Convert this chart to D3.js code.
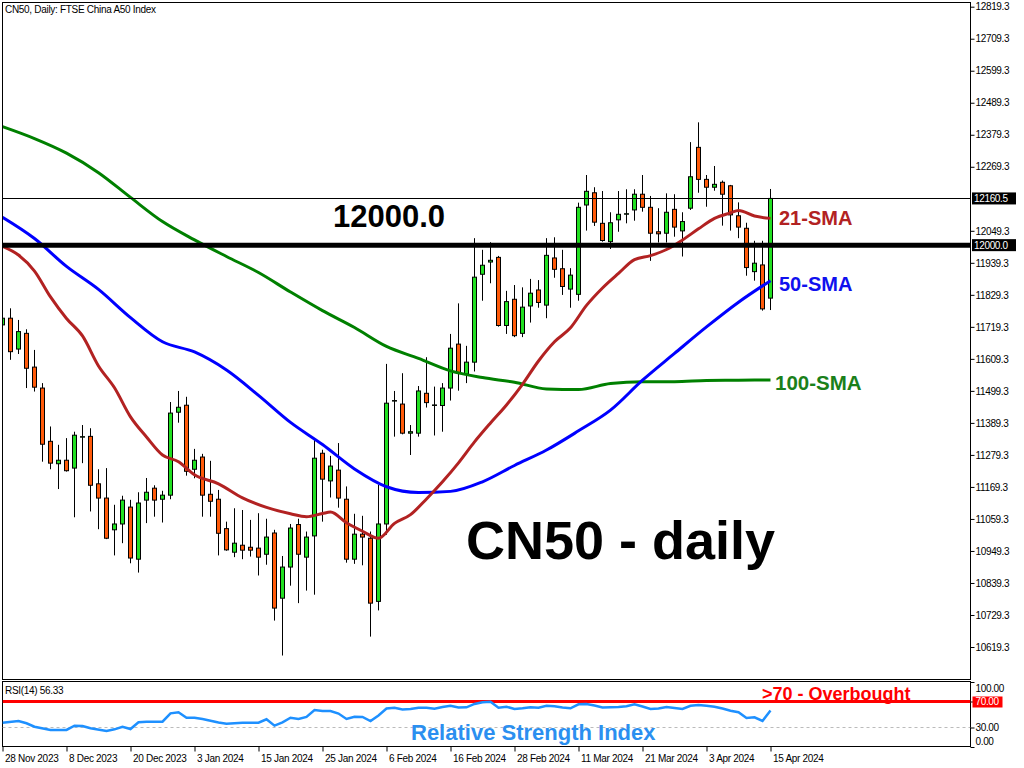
<!DOCTYPE html>
<html><head><meta charset="utf-8">
<script src="https://cdn.jsdelivr.net/npm/d3@7"></script>
<style>body{margin:0;background:#fff}</style>
</head><body><svg id="c" width="1024" height="768"></svg>
<script>
// ---- data ----
const opens  = [11726,11749,11643,11697,11581,11509,11326,11249,11261,11234,11342,11343,11180,11131,11022,11042,11100,10921,11124,11165,11127,11141,11426,11450,11230,11272,11144,11127,11026,10945,10969,10962,10959,10938,11011,10787,10894,11040,10928,11001,11285,11190,11227,11127,10921,11007,10993,10776,11042,11466,11454,11354,11354,11491,11451,11449,11509,11660,11557,11598,11900,11942,11958,11724,11814,11697,11791,11846,11794,11956,11919,11849,11831,12138,12180,12075,12012,12087,12108,12121,12175,12130,12046,12041,12123,12049,12127,12336,12226,12199,12216,12204,12101,12058,11909,11932,11818];
const highs  = [11757,11783,11743,11711,11640,11526,11377,11314,11337,11359,11382,11371,11230,11234,11108,11139,11125,11151,11200,11175,11156,11461,11499,11479,11300,11283,11259,11159,11050,11096,11090,11056,11079,11060,11022,10932,11042,11060,11016,11331,11297,11276,11320,11171,11077,11070,11016,11176,11592,11499,11560,11382,11516,11615,11514,11526,11695,11800,11654,12024,11984,12010,11963,11843,11863,11855,11884,11880,12024,12027,11984,11921,12146,12241,12199,12186,12113,12186,12192,12192,12241,12169,12127,12178,12175,12113,12354,12422,12241,12272,12222,12207,12147,12077,12015,12015,12193];
const lows   = [11719,11606,11626,11509,11497,11256,11230,11162,11222,11065,11251,11085,11024,10990,10934,10976,10907,10875,11045,11067,11047,11127,11390,11208,11199,11067,11067,10934,10950,10928,10921,10930,10865,10902,10710,10590,10830,10770,10813,10799,11050,11133,11098,10909,10905,10900,10655,10745,11005,11342,11350,11279,11342,11442,11346,11359,11466,11500,11526,11566,11809,11869,11720,11695,11684,11684,11734,11785,11749,11888,11829,11785,11809,12050,12066,12012,11987,12046,12075,12084,12115,11946,12009,12009,12029,11961,12121,12180,12132,12187,12067,12050,12024,11895,11878,11775,11777];
const closes = [11749,11634,11703,11577,11512,11316,11251,11261,11225,11347,11342,11175,11131,10993,11042,11124,10925,11114,11151,11124,11141,11423,11443,11223,11261,11141,11120,11010,10953,10976,10952,10952,10928,10997,10753,10894,11028,10938,10997,11268,11196,11241,11131,10921,11007,10997,10770,11042,11457,11466,11354,11359,11499,11459,11451,11509,11646,11560,11598,11890,11931,11948,11724,11806,11689,11787,11835,11803,11965,11917,11858,11897,12130,12185,12079,12016,12077,12106,12108,12175,12130,12041,12039,12113,12062,12081,12235,12226,12199,12209,12175,12104,12062,11923,11938,11781,12160.5];

const sma21Idx = [0,2,4,6,8,10,12,14,16,18,20,22,24,27,30,33,36,38,40,41,43,45,47,49,51,53,55,57,59,61,63,65,67,69,71,73,75,77,79,81,83,85,87,89,91,92,94,96];
const sma21    = [11996,11966,11911,11822,11748,11688,11585,11510,11410,11341,11279,11256,11211,11180,11132,11099,11077,11067,11078,11083,11046,11017,10993,11044,11074,11128,11187,11252,11324,11389,11451,11522,11602,11668,11716,11793,11853,11903,11950,11964,11985,12018,12056,12092,12111,12119,12100,12092];
const sma50Idx = [0,4,8,12,16,20,24,28,32,36,40,44,48,52,56,60,64,68,72,76,80,84,88,92,96];
const sma50    = [12096,12023,11927,11848,11751,11668,11633,11571,11484,11391,11315,11231,11170,11150,11154,11187,11243,11296,11362,11433,11536,11628,11719,11804,11878];
const sma100Idx= [0,4,8,12,16,20,24,28,32,36,40,44,48,52,56,60,64,68,72,76,80,84,88,92,96];
const sma100   = [12407,12366,12316,12249,12164,12081,12018,11961,11906,11839,11775,11717,11652,11611,11568,11545,11529,11506,11504,11525,11531,11531,11535,11536,11537];

const rsiIdx = [0,2,3,4,6,8,9,10,11,13,14,15,16,17,18,20,21,22,23,24,25,27,28,30,32,33,34,35,36,37,38,39,40,41,42,43,44,45,46,47,48,49,50,51,52,53,54,55,56,57,58,59,60,61,62,63,64,65,66,67,68,69,70,71,72,73,74,75,76,77,78,79,80,81,82,83,84,85,86,87,88,89,90,91,92,93,94,95,96];
const rsi    = [37.4,40,36.5,31.2,26.2,26.2,32.8,32.3,28.8,24.6,27.2,31.2,27.7,38,38.9,38.9,51.8,53.4,45.1,45.1,43.1,37.7,35.8,37.4,37.4,42.6,32.8,38,45.1,43.1,46.2,56.9,55.4,55.4,51.5,43.1,46.6,46.2,40,48.5,59.2,60.5,57.7,58.5,60.5,60.5,58.9,61.5,63.5,60.8,61.1,66.2,68.9,69.7,60.5,62,58.5,59.5,61.2,60.3,63.5,62.6,60.8,59.5,65.7,66.2,63.8,60.8,61.2,61.5,62.6,65.7,62.3,58.5,59.2,61.5,60,58.5,63.4,64.6,63.5,62,59.2,55.8,53.4,44.6,45.7,40,56.33];

const priceTicks = [12819.3,12709.3,12599.3,12489.3,12379.3,12269.3,12049.3,11939.3,11829.3,11719.3,11609.3,11499.3,11389.3,11279.3,11169.3,11059.3,10949.3,10839.3,10729.3,10619.3];
const dateTickIdx = [0,8,16,24,32,40,48,56,64,72,80,88,96];
const dateTickLabels = ["28 Nov 2023","8 Dec 2023","20 Dec 2023","3 Jan 2024","15 Jan 2024","25 Jan 2024","6 Feb 2024","16 Feb 2024","28 Feb 2024","11 Mar 2024","21 Mar 2024","3 Apr 2024","15 Apr 2024"];
const rsiTicks = [100,70,30,0];
const levelPrice = 12000.0;
const lastPrice = 12160.5;

// ---- drawing ----
const FONT = "'Liberation Sans', Arial, sans-serif";
const svg = d3.select('#c');
svg.append('rect').attr('width',1024).attr('height',768).attr('fill','#fff');

const L=2.5, R=970.5, T=2.5, B=679.5, RT=681.5, RB=746.5;
const x  = d3.scaleLinear().domain([0,96]).range([2.5,770.5]);
const y  = d3.scaleLinear().domain([10619.3,12819.3]).range([647,6.7]);
const ry = d3.scaleLinear().domain([0,100]).range([747,682]);

const defs = svg.append('defs');
defs.append('clipPath').attr('id','cm').append('rect').attr('x',L).attr('y',T).attr('width',R-L).attr('height',B-T);
defs.append('clipPath').attr('id','cr').append('rect').attr('x',L).attr('y',RT).attr('width',R-L).attr('height',RB-RT);

const gm = svg.append('g').attr('clip-path','url(#cm)');
const idx = d3.range(opens.length);

// candles
gm.selectAll('line.wick').data(idx).join('line').attr('class','wick')
  .attr('x1',i=>x(i)).attr('x2',i=>x(i))
  .attr('y1',i=>y(highs[i])).attr('y2',i=>y(lows[i]))
  .attr('stroke','#000').attr('stroke-width',1);
gm.selectAll('rect.body').data(idx).join('rect').attr('class','body')
  .attr('x',i=>x(i)-2).attr('width',4)
  .attr('y',i=>Math.min(y(opens[i]),y(closes[i])))
  .attr('height',i=>Math.max(0.5,Math.abs(y(opens[i])-y(closes[i]))))
  .attr('fill',i=>closes[i]>=opens[i]?'#22e022':'#ff5a0a')
  .attr('stroke','#000').attr('stroke-width',1);

// moving averages
function maLine(ix, vals, color){
  const ln = d3.line().x((d,i)=>x(ix[i])).y(d=>y(d)).curve(d3.curveMonotoneX);
  gm.append('path').attr('d',ln(vals)).attr('fill','none').attr('stroke',color).attr('stroke-width',3);
}
maLine(sma100Idx, sma100, '#008000');
maLine(sma50Idx, sma50, '#0000ff');
maLine(sma21Idx, sma21, '#b22222');

// horizontal levels
gm.append('line').attr('x1',L).attr('x2',R).attr('y1',Math.round(y(lastPrice))+0.5).attr('y2',Math.round(y(lastPrice))+0.5).attr('stroke','#000').attr('stroke-width',1);
gm.append('line').attr('x1',L).attr('x2',R).attr('y1',y(levelPrice)).attr('y2',y(levelPrice)).attr('stroke','#000').attr('stroke-width',5);

// frames
svg.append('rect').attr('x',L).attr('y',T).attr('width',R-L).attr('height',B-T).attr('fill','none').attr('stroke','#000');
svg.append('rect').attr('x',L).attr('y',RT).attr('width',R-L).attr('height',RB-RT).attr('fill','none').attr('stroke','#000');

// right price axis
const ax = svg.append('g').attr('transform',`translate(${R},0)`)
  .call(d3.axisRight(y).tickValues(priceTicks).tickSize(4).tickPadding(1).tickFormat(d=>d.toFixed(1)));
ax.select('.domain').remove();
ax.selectAll('text').attr('font-family',FONT).attr('font-size',10).attr('letter-spacing',-0.35).attr('fill','#000');

// boxed price labels
function priceBox(v, yy, bg){
  svg.append('rect').attr('x',972).attr('y',yy-6).attr('width',44).attr('height',12).attr('fill',bg);
  svg.append('text').attr('x',974).attr('y',yy).attr('dy','0.35em').attr('font-family',FONT).attr('font-size',10).attr('letter-spacing',-0.35).attr('fill','#fff').text(v);
}
priceBox(lastPrice.toFixed(1), y(lastPrice), '#000');
priceBox(levelPrice.toFixed(1), y(levelPrice), '#000');

// RSI panel
const gr = svg.append('g').attr('clip-path','url(#cr)');
gr.append('line').attr('x1',L).attr('x2',R).attr('y1',ry(30)).attr('y2',ry(30)).attr('stroke','#bbb').attr('stroke-dasharray','3,3');
gr.append('line').attr('x1',L).attr('x2',R).attr('y1',ry(70)).attr('y2',ry(70)).attr('stroke','#ff0000').attr('stroke-width',3);
const rl = d3.line().x((d,i)=>x(rsiIdx[i])).y(d=>ry(d));
gr.append('path').attr('d',rl(rsi)).attr('fill','none').attr('stroke','#1e90ff').attr('stroke-width',2.5);

const rax = svg.append('g').attr('transform',`translate(${R},0)`)
  .call(d3.axisRight(ry).tickValues(rsiTicks).tickSize(4).tickPadding(1).tickFormat(d=>d.toFixed(2)));
rax.select('.domain').remove();
rax.selectAll('text').attr('font-family',FONT).attr('font-size',10).attr('letter-spacing',-0.35).attr('fill','#000')
  .attr('dy',d=>d===100?'0.9em':(d===0?'-0.25em':'0.32em'));
rax.selectAll('.tick').filter(d=>d===70).select('text').attr('fill','#fff');
rax.selectAll('.tick').filter(d=>d===70).insert('rect','text').attr('x',2).attr('y',-5.5).attr('width',30).attr('height',11).attr('fill','#ff0000');

// bottom date axis
const bx = svg.append('g').attr('transform',`translate(0,${RB})`)
  .call(d3.axisBottom(x).tickValues(dateTickIdx).tickSize(5).tickPadding(2).tickFormat((d,i)=>dateTickLabels[i]));
bx.select('.domain').remove();
bx.selectAll('text').attr('font-family',FONT).attr('font-size',10).attr('letter-spacing',-0.3).attr('fill','#000')
  .attr('text-anchor','start').attr('x',2).attr('dy','0.8em');

// texts
svg.append('text').attr('x',5).attr('y',13).attr('font-family',FONT).attr('font-size',10).attr('letter-spacing',-0.3).text('CN50, Daily:  FTSE China A50 Index');
svg.append('text').attr('x',5).attr('y',694).attr('font-family',FONT).attr('font-size',10).attr('letter-spacing',-0.3).text('RSI(14) 56.33');

function label(t, xx, yy, size, color){
  svg.append('text').attr('x',xx).attr('y',yy).attr('font-family',FONT).attr('font-weight','bold')
    .attr('font-size',size).attr('fill',color).text(t);
}
label('12000.0', 333, 227, 31, '#000');
label('21-SMA', 779, 225, 20, '#b22222');
label('50-SMA', 779, 291, 20, '#1010ee');
label('100-SMA', 775, 390, 20.5, '#1a801a');
label('CN50 - daily', 466, 559, 54, '#000');
label('>70 - Overbought', 762, 700, 18, '#ff0000');
label('Relative Strength Index', 411, 740, 22, '#2b8ff0');
</script></body></html>
